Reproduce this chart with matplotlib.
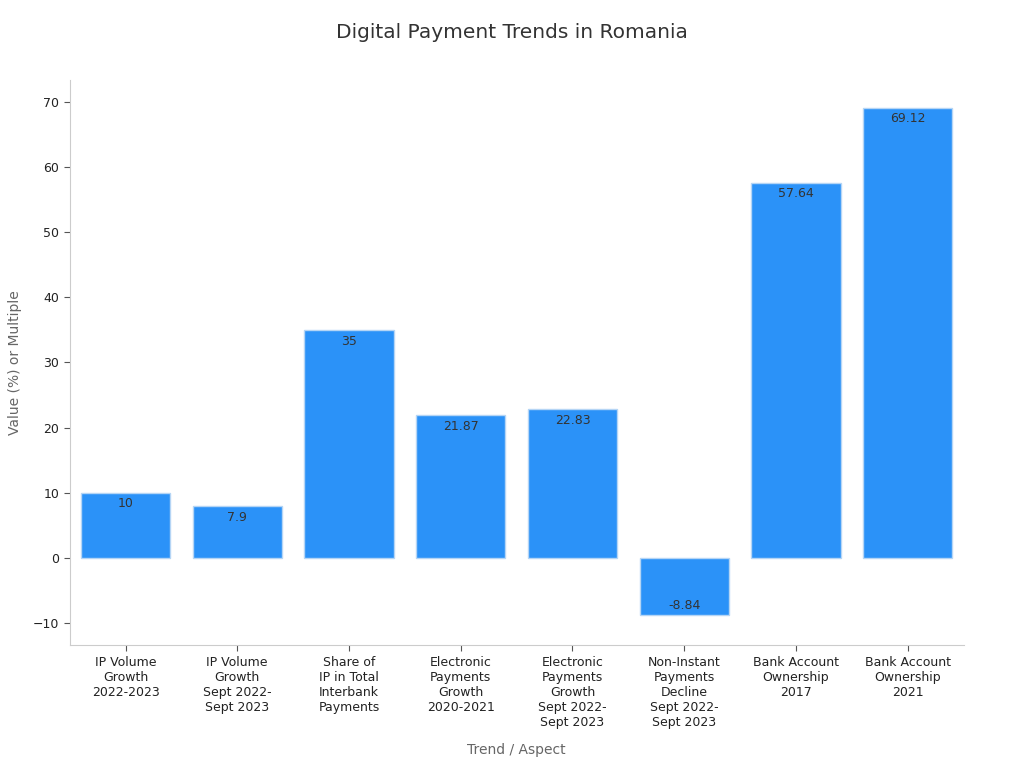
import numpy as np
import matplotlib.pyplot as plt

categories = [
    "IP Volume\nGrowth\n2022-2023",
    "IP Volume\nGrowth\nSept 2022-\nSept 2023",
    "Share of\nIP in Total\nInterbank\nPayments",
    "Electronic\nPayments\nGrowth\n2020-2021",
    "Electronic\nPayments\nGrowth\nSept 2022-\nSept 2023",
    "Non-Instant\nPayments\nDecline\nSept 2022-\nSept 2023",
    "Bank Account\nOwnership\n2017",
    "Bank Account\nOwnership\n2021",
]
values = [10, 7.9, 35, 21.87, 22.83, -8.84, 57.64, 69.12]
value_labels = ["10", "7.9", "35", "21.87", "22.83", "-8.84", "57.64", "69.12"]

fig = plt.figure(figsize=(10.24, 7.68), dpi=100)
ax = fig.add_axes([0.068, 0.16, 0.873, 0.736])

x = np.arange(len(categories))
bars = ax.bar(x, values, width=0.8, color="#2b92f8", edgecolor="#b5d5f5", linewidth=1)

for xi, v, lab in zip(x, values, value_labels):
    off = -8 if v >= 0 else 7
    ax.annotate(lab, (xi, v), xytext=(0, off), textcoords="offset points",
                ha="center", va="center", fontsize=9, color="#333333")

ax.set_xlim(-0.5, 7.5)
ax.set_ylim(-13.4, 73.4)
ax.set_yticks([-10, 0, 10, 20, 30, 40, 50, 60, 70])
ax.set_yticklabels(["\u221210", "0", "10", "20", "30", "40", "50", "60", "70"])
ax.set_xticks(x)
ax.set_xticklabels(categories, fontsize=9, color="#222222", linespacing=1.22)
ax.tick_params(axis="y", labelsize=9, colors="#222222")
ax.tick_params(axis="both", color="#555555", length=4)

for s in ["top", "right"]:
    ax.spines[s].set_visible(False)
for s in ["left", "bottom"]:
    ax.spines[s].set_color("#cccccc")

ax.set_xlabel("Trend / Aspect", fontsize=10, color="#666666", labelpad=10)
ax.set_ylabel("Value (%) or Multiple", fontsize=10, color="#666666", labelpad=8)
fig.suptitle("Digital Payment Trends in Romania", fontsize=14.5, color="#333333", y=0.97)

fig.savefig("out.png", dpi=100)
